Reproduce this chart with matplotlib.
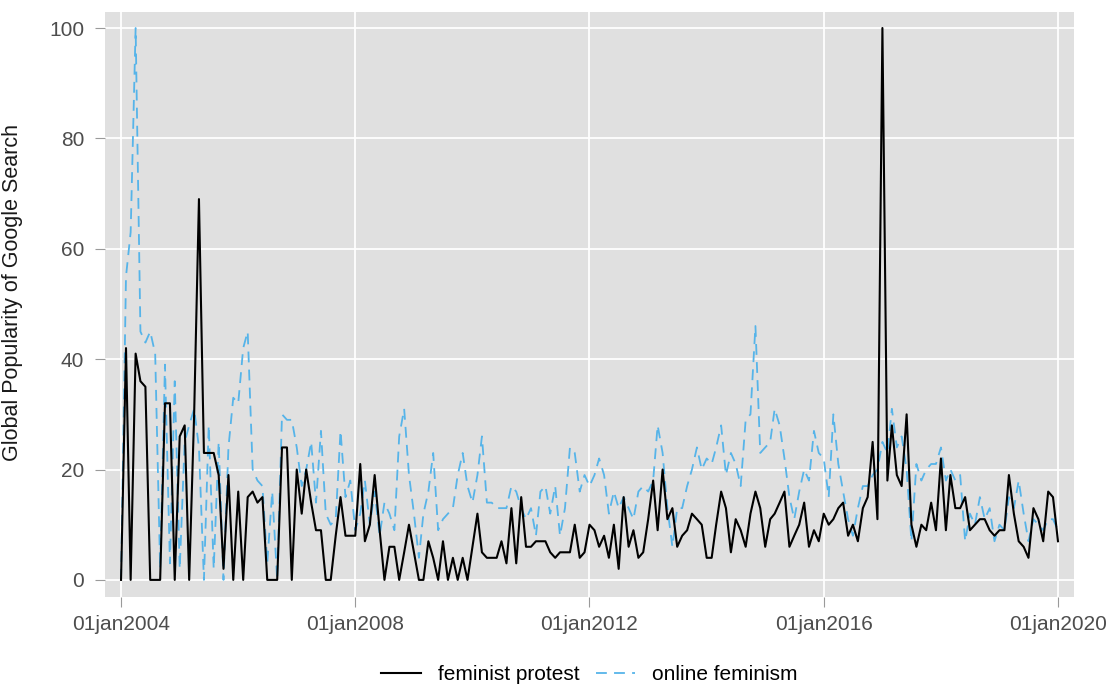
import pandas as pd
import matplotlib
matplotlib.use('Agg')
import matplotlib.pyplot as plt
from matplotlib.lines import Line2D

# Meses desde enero 2004 hasta enero 2020
fechas = pd.date_range('2004-01-01', '2020-01-01', freq='MS')

# Popularidad global (Google Trends), un renglon por año
feminist_protest = [
    0, 42, 0, 41, 36, 35, 0, 0, 0, 32, 32, 0,          # 2004
    26, 28, 0, 30, 69, 23, 23, 23, 19, 2, 19, 0,       # 2005
    16, 0, 15, 16, 14, 15, 0, 0, 0, 24, 24, 0,         # 2006
    20, 12, 20, 14, 9, 9, 0, 0, 8, 15, 8, 8,           # 2007
    8, 21, 7, 10, 19, 9, 0, 6, 6, 0, 5, 10,            # 2008
    5, 0, 0, 7, 4, 0, 7, 0, 4, 0, 4, 0,                # 2009
    6, 12, 5, 4, 4, 4, 7, 3, 13, 3, 15, 6,             # 2010
    6, 7, 7, 7, 5, 4, 5, 5, 5, 10, 4, 5,               # 2011
    10, 9, 6, 8, 4, 10, 2, 15, 6, 9, 4, 5,             # 2012
    11, 18, 9, 20, 11, 13, 6, 8, 9, 12, 11, 10,        # 2013
    4, 4, 10, 16, 13, 5, 11, 9, 6, 12, 16, 13,         # 2014
    6, 11, 12, 14, 16, 6, 8, 10, 14, 6, 9, 7,          # 2015
    12, 10, 11, 13, 14, 8, 10, 7, 13, 15, 25, 11,      # 2016
    100, 18, 28, 19, 17, 30, 10, 6, 10, 9, 14, 9,      # 2017
    22, 9, 19, 13, 13, 15, 9, 10, 11, 11, 9, 8,        # 2018
    9, 9, 19, 12, 7, 6, 4, 13, 11, 7, 16, 15,          # 2019
    7,                                                 # 2020
]

online_feminism = [
    0, 55, 63, 100, 45, 43, 45, 41, 2, 39, 3, 36,      # 2004
    2, 25, 28, 31, 24, 0, 28, 2, 25, 0, 24, 33,        # 2005
    32, 42, 45, 20, 18, 17, 3, 16, 0, 30, 29, 29,      # 2006
    24, 17, 20, 25, 14, 27, 12, 10, 11, 27, 15, 18,    # 2007
    9, 12, 18, 10, 16, 8, 14, 12, 9, 26, 31, 19,       # 2008
    12, 4, 12, 16, 23, 9, 11, 12, 13, 19, 23, 17,      # 2009
    14, 19, 26, 14, 14, 13, 13, 13, 17, 16, 13, 11,    # 2010
    13, 8, 16, 17, 12, 17, 8, 13, 24, 23, 16, 19,      # 2011
    17, 19, 22, 19, 12, 16, 13, 15, 13, 11, 16, 17,    # 2012
    16, 18, 28, 23, 13, 6, 13, 13, 17, 20, 24, 20,     # 2013
    22, 21, 24, 28, 19, 23, 21, 17, 29, 30, 46, 23,    # 2014
    24, 25, 31, 28, 22, 15, 11, 16, 20, 18, 27, 23,    # 2015
    22, 15, 30, 21, 16, 11, 8, 13, 17, 17, 19, 20,     # 2016
    25, 23, 31, 24, 26, 20, 7, 21, 18, 20, 21, 21,     # 2017
    24, 18, 20, 18, 19, 7, 12, 10, 15, 11, 13, 7,      # 2018
    10, 9, 15, 13, 18, 12, 7, 11, 10, 9, 11, 11,       # 2019
    9,                                                 # 2020
]

anios_ticks = [2004, 2008, 2012, 2016, 2020]
etiquetas_x = ['01jan2004', '01jan2008', '01jan2012', '01jan2016', '01jan2020']
valores_y = [0, 20, 40, 60, 80, 100]

plt.rcParams['font.family'] = ['Liberation Sans', 'DejaVu Sans']

azul = '#56B4E9'
gris_texto = '#4d4d4d'
estilo_azul = (0, (6, 4))

fig = plt.figure(figsize=(11.09, 6.85), dpi=100)
ax = fig.add_axes([105 / 1109, 1 - 597 / 685, 969 / 1109, 585 / 685])
ax.set_facecolor('#e0e0e0')

# Lineas de las dos busquedas
ax.plot(fechas, online_feminism, color=azul, linewidth=1.3,
        linestyle=estilo_azul, label='online feminism', zorder=3)
ax.plot(fechas, feminist_protest, color='black', linewidth=1.5,
        label='feminist protest', zorder=4)

# Ejes
ticks_x = [pd.Timestamp(f'{a}-01-01') for a in anios_ticks]
ax.set_xticks(ticks_x)
ax.set_xticklabels(etiquetas_x)
ax.set_yticks(valores_y)
ax.set_xlim(pd.Timestamp('2004-01-01') - pd.Timedelta(days=100),
            pd.Timestamp('2020-01-01') + pd.Timedelta(days=100))
ax.set_ylim(-3.1, 102.9)

ax.grid(True, color='white', linewidth=1.3)
ax.set_axisbelow(True)
for s in ax.spines.values():
    s.set_visible(False)

ax.tick_params(axis='both', colors='#9a9a9a', length=7, width=0.8,
               labelsize=15, labelcolor=gris_texto)
ax.tick_params(axis='x', pad=6)
ax.tick_params(axis='y', pad=8)

ax.set_ylabel('Global Popularity of Google Search', fontsize=15.5, color='#1a1a1a')
ax.yaxis.set_label_coords(-0.085, 0.52)

# Leyenda abajo, sin marco
handles = [Line2D([0], [0], color='black', linewidth=1.5),
           Line2D([0], [0], color=azul, linewidth=1.3, linestyle=estilo_azul)]
labels = ['feminist protest', 'online feminism']
fig.legend(handles, labels, loc='center', bbox_to_anchor=(589.5 / 1109, 10 / 685),
           ncol=2, frameon=False, fontsize=15, handlelength=1.9,
           handletextpad=0.8, columnspacing=0.8)

fig.savefig('out.png', dpi=100)
